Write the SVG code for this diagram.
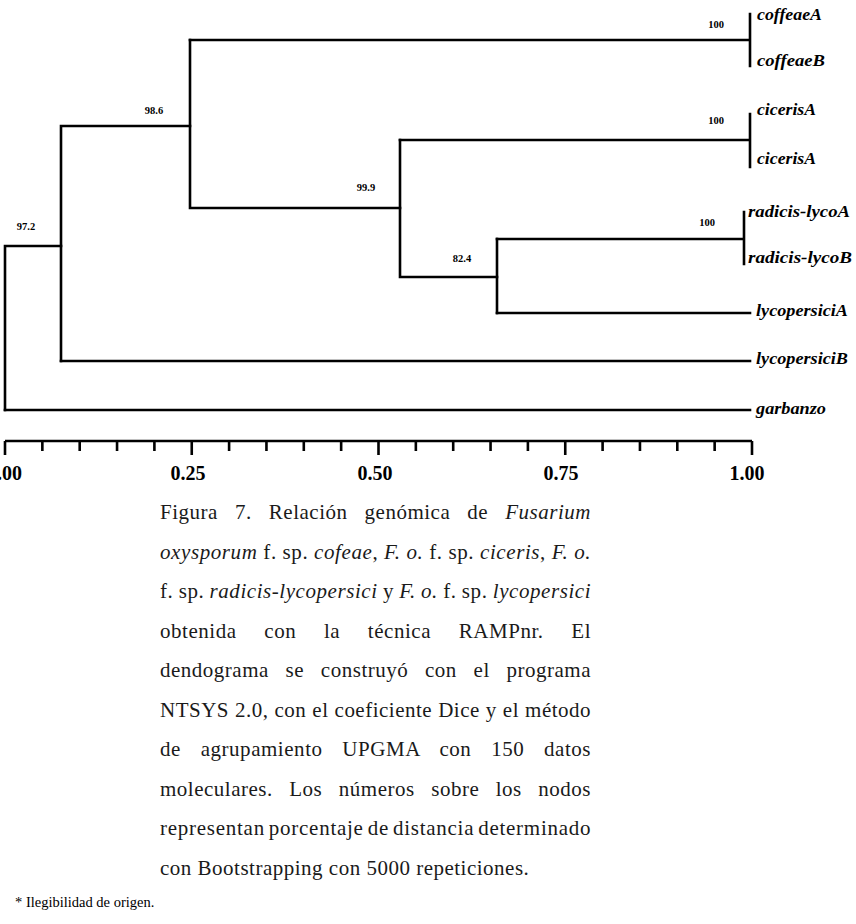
<svg xmlns="http://www.w3.org/2000/svg" width="856" height="924" viewBox="0 0 856 924">
<style>
.ln{stroke:#000;stroke-width:2.6;fill:none;stroke-linecap:square}
.tk{stroke:#000;stroke-width:2.6;fill:none}
.leaf{font-family:"Liberation Serif",serif;font-weight:bold;font-style:italic;font-size:16px;fill:#000}
.bs{font-family:"Liberation Serif",serif;font-weight:bold;font-size:10.5px;fill:#000;text-anchor:middle}
.ax{font-family:"Liberation Serif",serif;font-weight:bold;font-size:20px;fill:#000;text-anchor:middle}
.cap{font-family:"Liberation Serif",serif;font-size:21px;letter-spacing:0.5px;fill:#1a1a1a}
.i{font-style:italic}
.fn{font-family:"Liberation Serif",serif;font-size:14.5px;fill:#000}
</style>
<rect width="856" height="924" fill="#fff"/>
<g id="connectors">
<path class="ln" d="M750,14V66M190,40H750"/>
<path class="ln" d="M750,114V167M400,140H750"/>
<path class="ln" d="M744,212V264M497,239H744"/>
<path class="ln" d="M497,313H750"/>
<path class="ln" d="M61,361H750"/>
<path class="ln" d="M5,410H750"/>
<path class="ln" d="M5,246V410M5,246H61"/>
<path class="ln" d="M61,126V361M61,126H190"/>
<path class="ln" d="M190,40V208M190,208H400"/>
<path class="ln" d="M400,140V277M400,277H497"/>
<path class="ln" d="M497,239V313"/>
</g>
<g id="leaf-coffeaeA"><text class="leaf" x="757" y="20" textLength="65" lengthAdjust="spacingAndGlyphs">coffeaeA</text></g>
<g id="leaf-coffeaeB"><text class="leaf" x="757" y="66" textLength="68" lengthAdjust="spacingAndGlyphs">coffeaeB</text></g>
<g id="leaf-cicerisA1"><text class="leaf" x="757" y="115" textLength="59" lengthAdjust="spacingAndGlyphs">cicerisA</text></g>
<g id="leaf-cicerisA2"><text class="leaf" x="757" y="164" textLength="59" lengthAdjust="spacingAndGlyphs">cicerisA</text></g>
<g id="leaf-radicisA"><text class="leaf" x="748" y="217" textLength="102" lengthAdjust="spacingAndGlyphs">radicis-lycoA</text></g>
<g id="leaf-radicisB"><text class="leaf" x="748" y="263" textLength="104" lengthAdjust="spacingAndGlyphs">radicis-lycoB</text></g>
<g id="leaf-lycopersiciA"><text class="leaf" x="756" y="316" textLength="92" lengthAdjust="spacingAndGlyphs">lycopersiciA</text></g>
<g id="leaf-lycopersiciB"><text class="leaf" x="756" y="364" textLength="92" lengthAdjust="spacingAndGlyphs">lycopersiciB</text></g>
<g id="leaf-garbanzo"><text class="leaf" x="756" y="414" textLength="70" lengthAdjust="spacingAndGlyphs">garbanzo</text></g>
<g id="node-coffeae"><text class="bs" x="716" y="28">100</text></g>
<g id="node-ciceris"><text class="bs" x="716" y="124">100</text></g>
<g id="node-radicis"><text class="bs" x="707" y="226">100</text></g>
<g id="node-986"><text class="bs" x="154" y="114">98.6</text></g>
<g id="node-972"><text class="bs" x="26" y="230">97.2</text></g>
<g id="node-999"><text class="bs" x="366" y="191">99.9</text></g>
<g id="node-824"><text class="bs" x="462" y="262">82.4</text></g>
<g id="axis">
<path class="tk" d="M5,441H752M5,441V455M191.75,441V455M378.5,441V455M565.25,441V455M752,441V455"/>
<path class="tk" d="M42.35,441V451M79.7,441V451M117.05,441V451M154.4,441V451M229.1,441V451M266.45,441V451M303.8,441V451M341.15,441V451M415.85,441V451M453.2,441V451M490.55,441V451M527.9,441V451M602.6,441V451M639.95,441V451M677.3,441V451M714.65,441V451"/>
<text class="ax" x="22" y="480" style="text-anchor:end">0.00</text>
<text class="ax" x="188" y="480">0.25</text>
<text class="ax" x="375" y="480">0.50</text>
<text class="ax" x="561" y="480">0.75</text>
<text class="ax" x="747" y="480">1.00</text>
</g>
<g id="caption">
<text class="cap" x="160" y="519" word-spacing="11.35" textLength="431" lengthAdjust="spacing">Figura 7. Relación genómica de <tspan class="i">Fusarium</tspan></text>
<text class="cap" x="160" y="558.5" word-spacing="0" textLength="431" lengthAdjust="spacing"><tspan class="i">oxysporum</tspan> f. sp. <tspan class="i">cofeae</tspan>, <tspan class="i">F. o.</tspan> f. sp. <tspan class="i">ciceris</tspan>, <tspan class="i">F. o.</tspan></text>
<text class="cap" x="160" y="598" word-spacing="-0.5" textLength="431" lengthAdjust="spacing">f. sp. <tspan class="i">radicis-lycopersici</tspan> y <tspan class="i">F. o.</tspan> f. sp. <tspan class="i">lycopersici</tspan></text>
<text class="cap" x="160" y="637.5" word-spacing="21.9" textLength="431" lengthAdjust="spacing">obtenida con la técnica RAMPnr. El</text>
<text class="cap" x="160" y="677" word-spacing="11" textLength="431" lengthAdjust="spacing">dendograma se construyó con el programa</text>
<text class="cap" x="160" y="716.5" word-spacing="0.3" textLength="431" lengthAdjust="spacing">NTSYS 2.0, con el coeficiente Dice y el método</text>
<text class="cap" x="160" y="756" word-spacing="14" textLength="431" lengthAdjust="spacing">de agrupamiento UPGMA con 150 datos</text>
<text class="cap" x="160" y="795.5" word-spacing="10.8" textLength="431" lengthAdjust="spacing">moleculares. Los números sobre los nodos</text>
<text class="cap" x="160" y="835" word-spacing="-2" textLength="431" lengthAdjust="spacing">representan porcentaje de distancia determinado</text>
<text class="cap" x="160" y="874.5">con Bootstrapping con 5000 repeticiones.</text>
</g>
<g id="footnote"><text class="fn" x="15" y="907">* Ilegibilidad de origen.</text></g>
</svg>
